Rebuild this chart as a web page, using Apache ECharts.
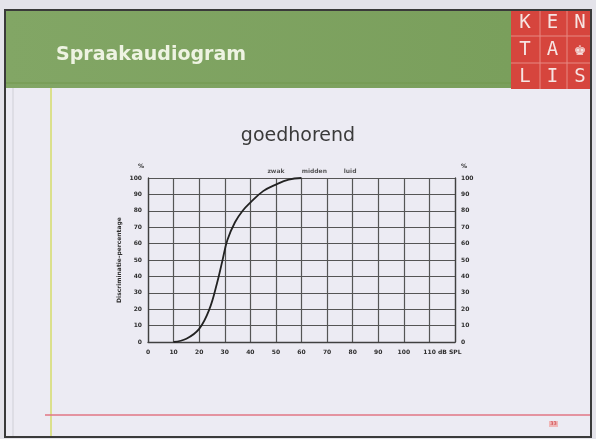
<!DOCTYPE html>
<html>
<head>
<meta charset="utf-8">
<script src="https://cdn.jsdelivr.net/npm/echarts@6/dist/echarts.min.js"></script>
<style>
  html, body { margin: 0; padding: 0; background: #e4e3ea; }
  #chart { width: 596px; height: 439px; }
</style>
</head>
<body>
<div id="chart"></div>
<script>
// speech audiogram curve (dB SPL, % correct)
var curveDb = [10, 15, 20, 24, 27, 29, 31, 34, 37, 40, 45, 50, 55, 60];
var curvePct = [0, 2, 8, 20, 36, 49, 62, 73, 80, 85, 92, 96, 99, 100];

// loudness markers above the plot
var levelNames = ['zwak', 'midden', 'luid'];
var levelDb = [50, 65, 79];

var xTicks = [0, 10, 20, 30, 40, 50, 60, 70, 80, 90, 100, 110];
var logoLetters = [['K', 'E', 'N'], ['T', 'A', '♚'], ['L', 'I', 'S']];

var chart = echarts.init(document.getElementById('chart'));

var tick = { fontSize: 6, fontWeight: 'bold', color: '#2e2e2e', fontFamily: 'DejaVu Sans' };

var logo = [];
logoLetters.forEach(function (row, r) {
  row.forEach(function (ch, c) {
    logo.push({
      type: 'text',
      x: 525 + c * 27.5,
      y: 23 + r * 27,
      style: {
        text: ch, fill: '#f6e4e2', fontSize: 19,
        fontFamily: 'DejaVu Sans Mono', align: 'center', verticalAlign: 'middle'
      }
    });
  });
});

chart.setOption({
  backgroundColor: '#e4e3ea',
  animation: false,
  graphic: [
    { type: 'rect', shape: { x: 5, y: 10, width: 586, height: 427 }, style: { fill: '#ecebf3', stroke: '#3a3a3a', lineWidth: 2 }, z: -10 },
    { type: 'line', shape: { x1: 13, y1: 88, x2: 13, y2: 436 }, style: { stroke: '#cfcfd6', lineWidth: 1 }, z: -9 },
    {
      type: 'rect', shape: { x: 6, y: 11, width: 505, height: 77 }, z: -9,
      style: {
        fill: new echarts.graphic.LinearGradient(0, 0, 1, 0, [
          { offset: 0, color: '#82a665' },
          { offset: 1, color: '#7a9f5c' }
        ])
      }
    },
    { type: 'line', shape: { x1: 6, y1: 83, x2: 511, y2: 83 }, style: { stroke: '#72984f', lineWidth: 1 }, z: -8 },
    {
      type: 'text', x: 56, y: 55,
      style: { text: 'Spraakaudiogram', fill: '#eef3e2', fontSize: 19, fontWeight: 'bold', fontFamily: 'DejaVu Sans', verticalAlign: 'middle' }
    },
    { type: 'rect', shape: { x: 511, y: 11, width: 79, height: 78 }, style: { fill: '#d6453d' }, z: -9 },
    { type: 'line', shape: { x1: 540, y1: 11, x2: 540, y2: 89 }, style: { stroke: '#e78a83', lineWidth: 1 } },
    { type: 'line', shape: { x1: 567, y1: 11, x2: 567, y2: 89 }, style: { stroke: '#e78a83', lineWidth: 1 } },
    { type: 'line', shape: { x1: 511, y1: 36, x2: 590, y2: 36 }, style: { stroke: '#e78a83', lineWidth: 1 } },
    { type: 'line', shape: { x1: 511, y1: 63, x2: 590, y2: 63 }, style: { stroke: '#e78a83', lineWidth: 1 } }
  ].concat(logo).concat([
    { type: 'line', shape: { x1: 51, y1: 88, x2: 51, y2: 436 }, style: { stroke: '#dbe08c', lineWidth: 2 } },
    { type: 'line', shape: { x1: 45, y1: 415, x2: 590, y2: 415 }, style: { stroke: '#e27684', lineWidth: 1.5 } },
    { type: 'rect', shape: { x: 549, y: 421, width: 9, height: 6 }, style: { fill: '#f0b7b8' } },
    {
      type: 'text', x: 553.5, y: 424,
      style: { text: '33', fill: '#c8343a', fontSize: 5, align: 'center', verticalAlign: 'middle', fontFamily: 'DejaVu Sans' }
    }
  ]),
  title: {
    text: 'goedhorend',
    left: 'center',
    top: 122,
    textStyle: { fontSize: 19, fontWeight: 'normal', color: '#3a3a3a', fontFamily: 'DejaVu Sans' }
  },
  grid: { left: 148, right: 141, top: 178, bottom: 97 },
  xAxis: {
    type: 'value',
    min: 0, max: 120, interval: 10,
    axisLine: { show: true, lineStyle: { color: '#404040', width: 1.3 } },
    axisTick: { show: false },
    splitLine: { show: true, lineStyle: { color: '#555', width: 1.2 } },
    axisLabel: {
      margin: 7,
      fontSize: 6, fontWeight: 'bold', color: '#2e2e2e', fontFamily: 'DejaVu Sans',
      formatter: function (v) {
        if (xTicks.indexOf(v) < 0) return '';
        return v === 110 ? '{u|110 dB SPL}' : String(v);
      },
      rich: { u: { fontSize: 6, fontWeight: 'bold', color: '#2e2e2e', fontFamily: 'DejaVu Sans', padding: [0, 0, 0, 26] } }
    }
  },
  yAxis: [
    {
      type: 'value', min: 0, max: 100, interval: 10, position: 'left',
      name: '%', nameGap: 9,
      nameTextStyle: Object.assign({}, tick, { align: 'right', padding: [0, 4, 0, 0] }),
      axisLine: { show: true, lineStyle: { color: '#404040', width: 1.3 } },
      axisTick: { show: false },
      splitLine: { show: true, lineStyle: { color: '#555', width: 1.2 } },
      axisLabel: Object.assign({ margin: 6 }, tick)
    },
    {
      type: 'value', min: 0, max: 100, interval: 10, position: 'right',
      name: '%', nameGap: 9,
      nameTextStyle: Object.assign({}, tick, { align: 'left', padding: [0, 0, 0, 6] }),
      axisLine: { show: true, lineStyle: { color: '#404040', width: 1.3 } },
      axisTick: { show: false },
      splitLine: { show: false },
      axisLabel: Object.assign({ margin: 6 }, tick)
    },
    {
      type: 'value', min: 0, max: 100, position: 'left',
      name: 'Discriminatie-percentage', nameLocation: 'middle', nameGap: 26, nameRotate: 90,
      nameTextStyle: { fontSize: 6, fontWeight: 'bold', color: '#2e2e2e', fontFamily: 'DejaVu Sans' },
      axisLine: { show: false }, axisTick: { show: false },
      axisLabel: { show: false }, splitLine: { show: false }
    }
  ],
  series: [
    {
      type: 'line',
      smooth: 0.4,
      showSymbol: false,
      data: curveDb.map(function (d, i) { return [d, curvePct[i]]; }),
      lineStyle: { color: '#222', width: 1.8 },
      z: 5
    },
    {
      type: 'scatter',
      symbolSize: 0,
      data: levelDb.map(function (d, i) { return { name: levelNames[i], value: [d, 100] }; }),
      label: {
        show: true, position: 'top', distance: 4,
        formatter: '{b}',
        fontSize: 6, fontWeight: 'bold', color: '#2e2e2e', fontFamily: 'DejaVu Sans'
      }
    }
  ]
});
</script>
</body>
</html>
